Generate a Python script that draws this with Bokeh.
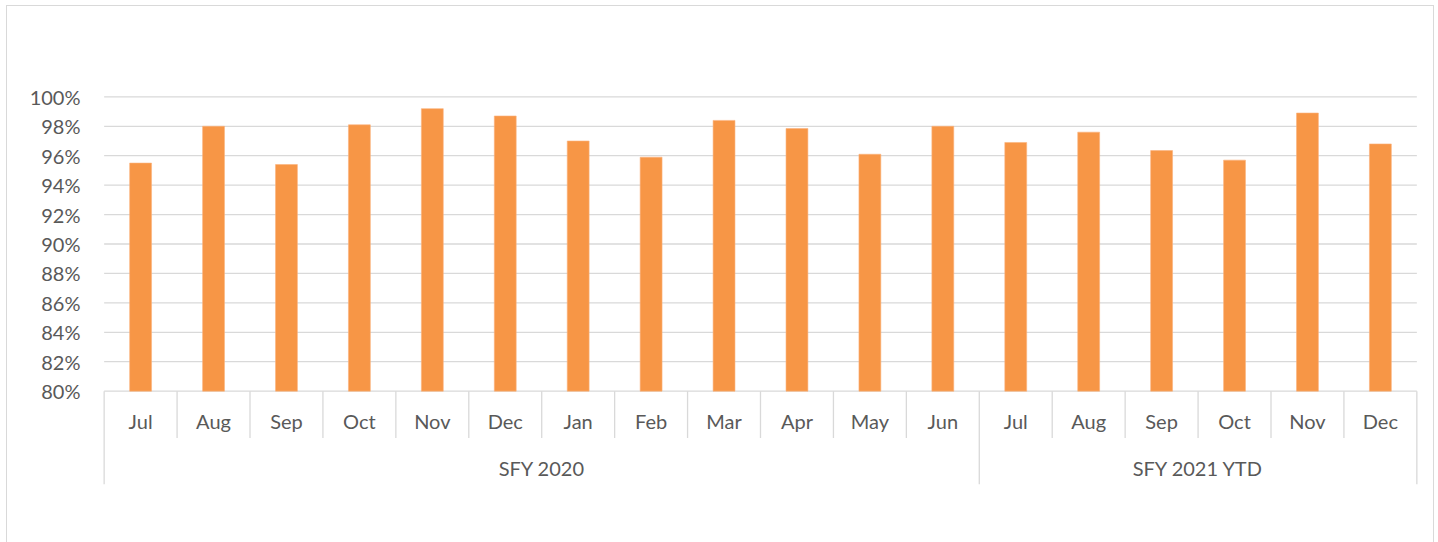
from bokeh.plotting import figure
from bokeh.models import Range1d, FixedTicker, PrintfTickFormatter, ColumnDataSource
from bokeh.core.properties import value
from bokeh.embed import file_html
from bokeh.resources import INLINE

# ---- data ----
months = ["Jul", "Aug", "Sep", "Oct", "Nov", "Dec", "Jan", "Feb", "Mar", "Apr", "May", "Jun",
          "Jul", "Aug", "Sep", "Oct", "Nov", "Dec"]
group_names = ["SFY 2020", "SFY 2021 YTD"]
group_sizes = [12, 6]
values = [95.5, 98.0, 95.4, 98.1, 99.2, 98.7, 97.0, 95.9, 98.4, 97.85, 96.1, 98.0,
          96.9, 97.6, 96.35, 95.7, 98.9, 96.8]
y_ticks = [80, 82, 84, 86, 88, 90, 92, 94, 96, 98, 100]

# ---- style ----
BAR = "#F79646"
GRID = "#D9D9D9"
TXT = "#595959"
FONT = "Lato"
FS = "20px"

n = len(months)
idx = list(range(n))
base = y_ticks[0]

p = figure(width=1428, height=537, output_backend="svg", toolbar_location=None,
           x_range=Range1d(-0.55, n - 0.45), y_range=Range1d(72.5, 100.5),
           x_axis_type=None, min_border_left=94, min_border_right=14,
           min_border_top=84, min_border_bottom=41)
p.outline_line_color = None
p.grid.visible = False
p.background_fill_color = None
p.border_fill_color = None
p.styles = {"box-shadow": "inset 1px 0 0 #D9D9D9, inset -1px 0 0 #D9D9D9, inset 0 1px 0 #D9D9D9",
            "margin-left": "6px", "margin-top": "5px"}

# y axis
p.yaxis.ticker = FixedTicker(ticks=y_ticks)
p.yaxis.formatter = PrintfTickFormatter(format="%d%%")
p.yaxis.axis_line_color = None
p.yaxis.major_tick_line_color = None
p.yaxis.minor_tick_line_color = None
p.yaxis.major_tick_out = 0
p.yaxis.major_label_standoff = 20
p.yaxis.major_label_text_font = FONT
p.yaxis.major_label_text_font_size = FS
p.yaxis.major_label_text_color = TXT

# gridlines
p.segment(x0=[-0.5] * len(y_ticks), x1=[n - 0.5] * len(y_ticks), y0=y_ticks, y1=y_ticks,
          line_color=GRID, line_width=1.3)

# bars
src = ColumnDataSource(dict(x=idx, top=values))
p.vbar(x="x", top="top", bottom=base, width=0.3, source=src,
       fill_color=BAR, line_color="#FBB27C", line_width=0.6)

# category axis (two levels)
bounds = [i - 0.5 for i in range(n + 1)]
group_edges = [-0.5]
acc = 0
for s in group_sizes:
    acc += s
    group_edges.append(acc - 0.5)
short = [b for b in bounds if b not in group_edges]

month_sep_bottom = 76.82
group_sep_bottom = 73.67
p.segment(x0=short, x1=short, y0=[base] * len(short), y1=[month_sep_bottom] * len(short),
          line_color=GRID, line_width=1.3)
p.segment(x0=group_edges, x1=group_edges, y0=[base] * len(group_edges),
          y1=[group_sep_bottom] * len(group_edges), line_color=GRID, line_width=1.3)

p.text(x=idx, y=[77.94] * n, text=months, text_align="center", text_baseline="middle",
       text_font=value(FONT), text_font_size=FS, text_color=TXT)

gx = []
start = 0
for s in group_sizes:
    gx.append(start + (s - 1) / 2)
    start += s
p.text(x=gx, y=[74.78] * len(gx), text=group_names, text_align="center", text_baseline="middle",
       text_font=value(FONT), text_font_size=FS, text_color=TXT)

open("out.html", "w").write(file_html(p, INLINE))
